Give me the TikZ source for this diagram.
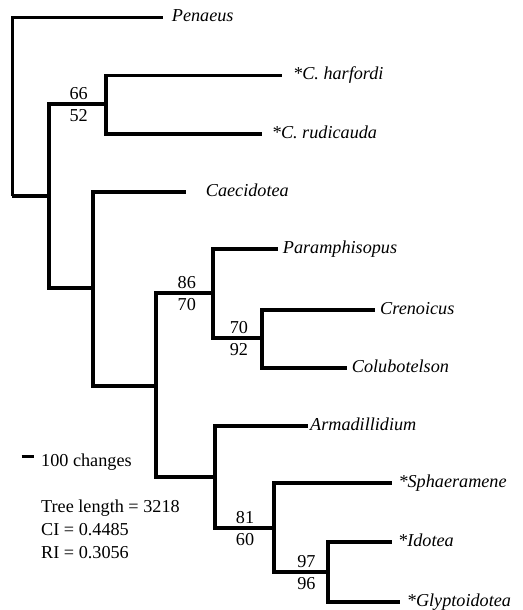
\documentclass[tikz,border=0pt]{standalone}
\usepackage{fontspec}
\setmainfont{Liberation Serif}
\begin{document}
\begin{tikzpicture}[x=1pt,y=-1pt,
  br/.style={line width=3.2pt, line join=miter, line cap=butt},
  txt/.style={font=\fontsize{18.2}{22.8}\selectfont, inner sep=0pt},
  tip/.style={txt, font=\fontsize{18.2}{22.8}\selectfont\itshape, anchor=base west},
  bsup/.style={txt, anchor=base, yshift=5pt},
  bsdn/.style={txt, anchor=base, yshift=-17.4pt}]
\useasboundingbox (0,0) rectangle (522,610);
% internal nodes (x of bar, y of incoming branch)
\coordinate (r)  at (12.3,196);
\coordinate (A)  at (49,196);
\coordinate (H1) at (106,104);
\coordinate (B)  at (93,288);
\coordinate (C)  at (156,386);
\coordinate (D)  at (213,293);
\coordinate (E)  at (262,338);
\coordinate (F)  at (215,477);
\coordinate (G)  at (274,528);
\coordinate (Hn) at (328,572);
% tips
\coordinate (tPen) at (163.3,17.3);
\coordinate (tHar) at (282,75.5);
\coordinate (tRud) at (262,134);
\coordinate (tCae) at (185.7,192);
\coordinate (tPar) at (278.3,249);
\coordinate (tCre) at (375,310);
\coordinate (tCol) at (347.3,368);
\coordinate (tArm) at (308.3,426);
\coordinate (tSph) at (391.7,483);
\coordinate (tIdo) at (391.7,542);
\coordinate (tGly) at (400,602);
% branches
\draw[br] (r) |- (tPen);
\draw[br] (r) |- (A);
\draw[br] (A) |- (H1) node[bsup,pos=0.76]{66} node[bsdn,pos=0.76]{52};
\draw[br] (A) |- (B);
\draw[br] (H1) |- (tHar);
\draw[br] (H1) |- (tRud);
\draw[br] (B) |- (tCae);
\draw[br] (B) |- (C);
\draw[br] (C) |- (D) node[bsup,pos=0.77]{86} node[bsdn,pos=0.77]{70};
\draw[br] (C) |- (F);
\draw[br] (D) |- (tPar);
\draw[br] (D) |- (E) node[bsup,pos=0.765]{70} node[bsdn,pos=0.765]{92};
\draw[br] (E) |- (tCre);
\draw[br] (E) |- (tCol);
\draw[br] (F) |- (tArm);
\draw[br] (F) |- (G) node[bsup,pos=0.755]{81} node[bsdn,pos=0.755]{60};
\draw[br] (G) |- (tSph);
\draw[br] (G) |- (Hn) node[bsup,pos=0.8]{97} node[bsdn,pos=0.8]{96};
\draw[br] (Hn) |- (tIdo);
\draw[br] (Hn) |- (tGly);
% tip labels
\node[tip] (nPen) at ([xshift=8.4pt,yshift=-4pt]tPen) {Penaeus};
\node[tip] (nHar) at ([xshift=11pt,yshift=-4pt]tHar) {*C. harfordi};
\node[tip] (nRud) at ([xshift=9.7pt,yshift=-4pt]tRud) {*C. rudicauda};
\node[tip] (nCae) at ([xshift=20pt,yshift=-4pt]tCae) {Caecidotea};
\node[tip] (nPar) at ([xshift=4.4pt,yshift=-4pt]tPar) {Paramphisopus};
\node[tip] (nCre) at ([xshift=5pt,yshift=-4pt]tCre) {Crenoicus};
\node[tip] (nCol) at ([xshift=4.4pt,yshift=-4pt]tCol) {Colubotelson};
\node[tip] (nArm) at ([xshift=1.7pt,yshift=-4pt]tArm) {Armadillidium};
\node[tip] (nSph) at ([xshift=6.6pt,yshift=-4pt]tSph) {*Sphaeramene};
\node[tip] (nIdo) at ([xshift=6.3pt,yshift=-4pt]tIdo) {*Idotea};
\node[tip] (nGly) at ([xshift=6.7pt,yshift=-4pt]tGly) {*Glyptoidotea};
% scale bar and statistics
\coordinate (sb1) at (21.7,456.7);
\coordinate (sb2) at (34.3,456.7);
\draw[line width=3.2pt] (sb1) -- (sb2);
\node[txt, anchor=base west] (scl) at (41,466.7) {100 changes};
\node[txt, anchor=base west] (tl) at (41,512.7) {Tree length = 3218};
\node[txt, anchor=base west] (ci) at (41,535.3) {CI = 0.4485};
\node[txt, anchor=base west] (ri) at (41,558.3) {RI = 0.3056};
\end{tikzpicture}
\end{document}
